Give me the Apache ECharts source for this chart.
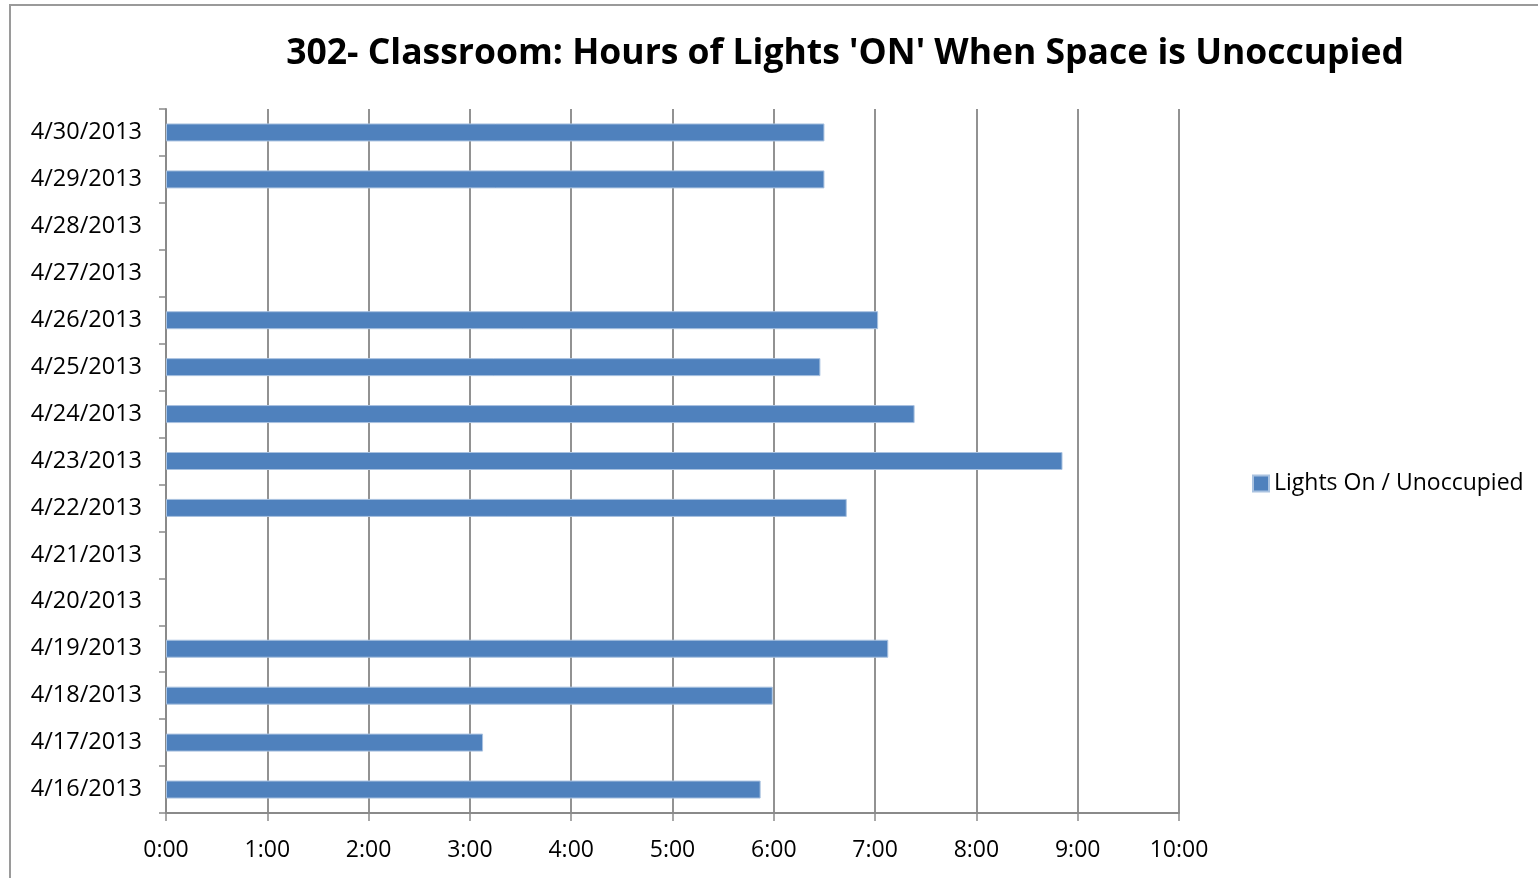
<!DOCTYPE html>
<html>
<head>
<meta charset="utf-8">
<script src="https://cdn.jsdelivr.net/npm/echarts@6/dist/echarts.min.js"></script>
<style>
  html, body { margin: 0; padding: 0; background: #fff; }
  #chart { width: 1538px; height: 878px; }
</style>
</head>
<body>
<div id="chart"></div>
<script>
// Dates, bottom to top on the category axis
const dates = [
  '4/16/2013', '4/17/2013', '4/18/2013', '4/19/2013', '4/20/2013',
  '4/21/2013', '4/22/2013', '4/23/2013', '4/24/2013', '4/25/2013',
  '4/26/2013', '4/27/2013', '4/28/2013', '4/29/2013', '4/30/2013'
];
// Hours with lights on while the room was empty (null = no data)
const hoursOn = [
  5.87, 3.13, 5.99, 7.13, null,
  null, 6.72, 8.85, 7.39, 6.46,
  7.03, null, null, 6.50, 6.50
];
const seriesName = 'Lights On / Unoccupied';
const titleText = "302- Classroom: Hours of Lights 'ON' When Space is Unoccupied";
const hourMin = 0, hourMax = 10, hourStep = 1;

const fontFamily = '"Open Sans", "Noto Sans", sans-serif';
const chart = echarts.init(document.getElementById('chart'));

chart.setOption({
  animation: false,
  backgroundColor: '#ffffff',
  graphic: [{
    type: 'rect',
    shape: { x: 10, y: 5, width: 1600, height: 1000 },
    style: { fill: 'none', stroke: '#9a9a9a', lineWidth: 2 },
    silent: true
  }],
  title: {
    text: titleText,
    left: 845,
    textAlign: 'center',
    top: 36,
    padding: 0,
    textStyle: { fontFamily: fontFamily, fontWeight: 'bold', fontSize: 35.5, color: '#000' }
  },
  legend: {
    data: [seriesName],
    left: 1252,
    top: 472,
    padding: 0,
    icon: 'rect',
    itemWidth: 16,
    itemHeight: 16,
    itemGap: 6,
    textStyle: { fontFamily: fontFamily, fontSize: 23, color: '#000' }
  },
  grid: { left: 166, right: 359, top: 109, bottom: 65 },
  xAxis: {
    type: 'value',
    min: hourMin,
    max: hourMax,
    interval: hourStep,
    axisLine: { show: true, lineStyle: { color: '#8a8a8a', width: 2 } },
    axisTick: { show: true, length: 8, lineStyle: { color: '#8a8a8a', width: 1.5 } },
    axisLabel: {
      margin: 26,
      fontFamily: fontFamily, fontSize: 23, color: '#000',
      formatter: v => v + ':00'
    },
    splitLine: { show: true, lineStyle: { color: '#929292', width: 2 } }
  },
  yAxis: {
    type: 'category',
    data: dates,
    axisLine: { show: true, lineStyle: { color: '#8a8a8a', width: 2 } },
    axisTick: { show: true, length: 7, lineStyle: { color: '#8a8a8a', width: 1.5 } },
    axisLabel: { margin: 24, fontFamily: fontFamily, fontSize: 23.5, color: '#000', padding: [8, 0, 0, 0] },
    splitLine: { show: false }
  },
  series: [{
    name: seriesName,
    type: 'bar',
    data: hoursOn,
    barWidth: 18,
    itemStyle: { color: '#4F81BD', borderColor: '#A9C2E0', borderWidth: 1 }
  }]
});
</script>
</body>
</html>
